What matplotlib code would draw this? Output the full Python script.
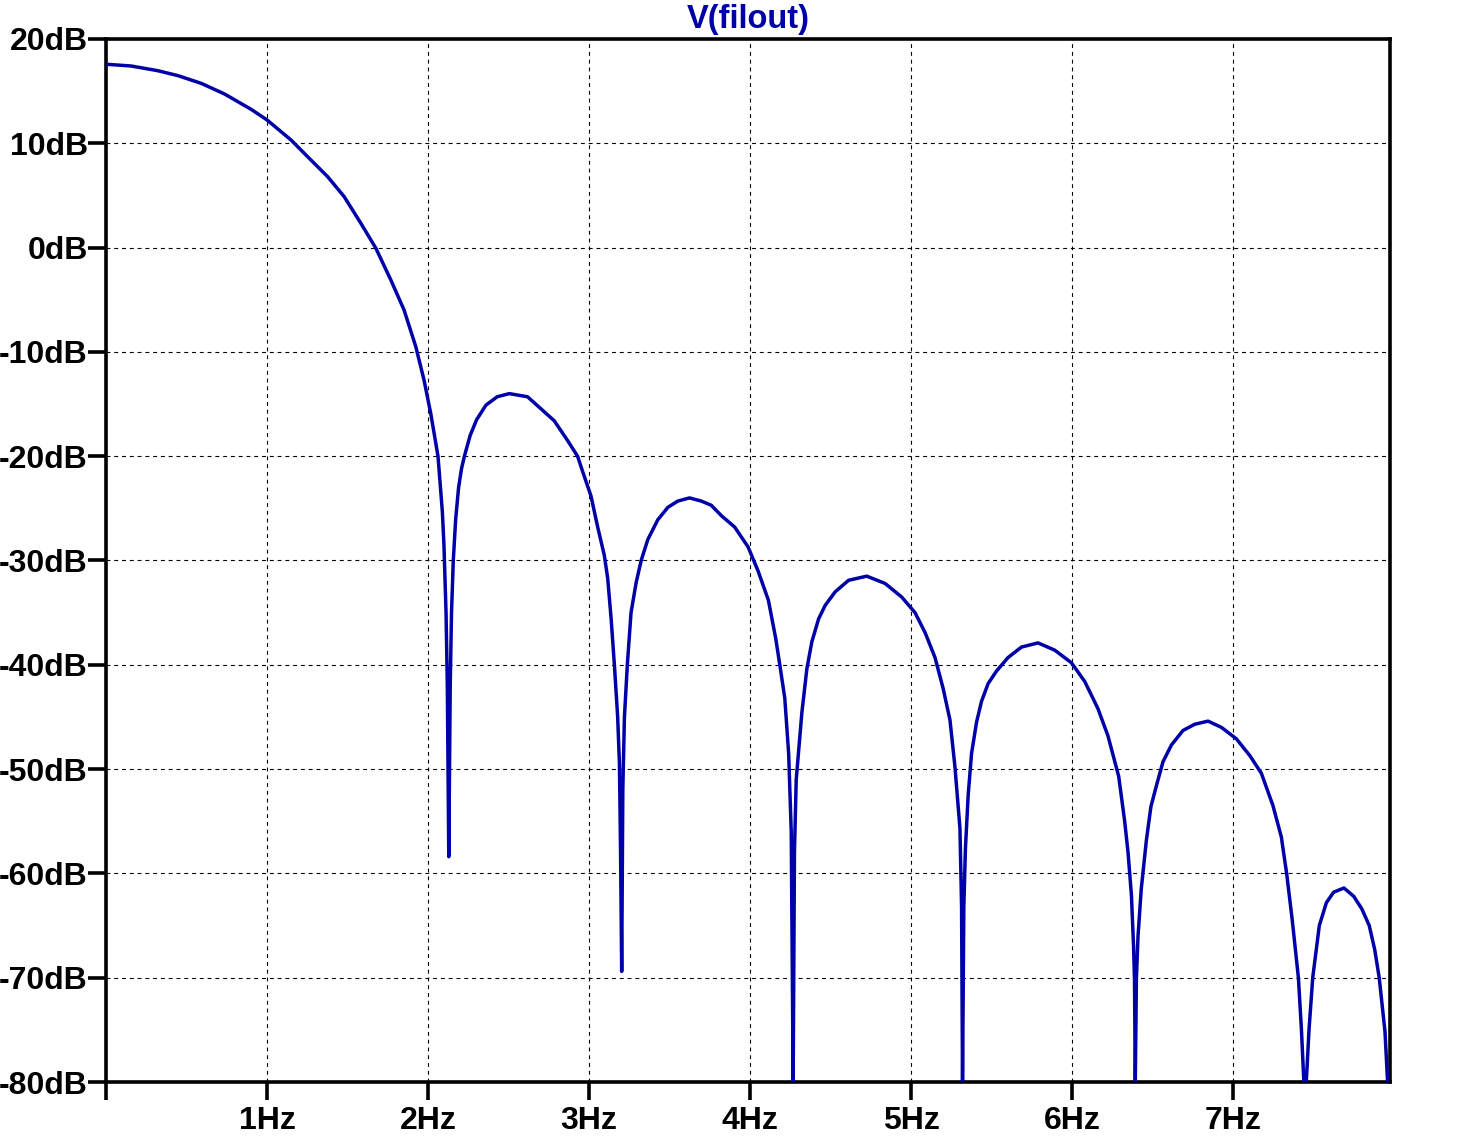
import matplotlib
matplotlib.use("Agg")
import matplotlib.pyplot as plt
from matplotlib.ticker import FixedLocator, FixedFormatter

plt.rcParams['font.family'] = ['Liberation Sans', 'DejaVu Sans']

# ---- data ----
freq_hz = [
    0.0, 0.157, 0.322, 0.446, 0.591, 0.736, 0.901, 1.0, 1.149, 1.252,
    1.376, 1.479, 1.583, 1.676, 1.769, 1.851, 1.924, 1.975, 2.017, 2.062,
    2.089, 2.099, 2.112, 2.120, 2.129, 2.138, 2.146, 2.157, 2.172, 2.19,
    2.208, 2.226, 2.262, 2.302, 2.36, 2.43, 2.505, 2.618, 2.701, 2.784,
    2.867, 2.929, 2.961, 3.012, 3.054, 3.095, 3.116, 3.137, 3.158, 3.178,
    3.189, 3.196, 3.203, 3.21, 3.22, 3.238, 3.261, 3.293, 3.324, 3.365,
    3.427, 3.49, 3.552, 3.624, 3.697, 3.759, 3.822, 3.905, 3.988, 4.05,
    4.114, 4.16, 4.185, 4.216, 4.24, 4.256, 4.262, 4.268, 4.276, 4.287,
    4.322, 4.353, 4.384, 4.426, 4.467, 4.529, 4.612, 4.725, 4.839, 4.942,
    5.025, 5.087, 5.149, 5.2, 5.242, 5.273, 5.304, 5.314, 5.320, 5.328,
    5.338, 5.355, 5.376, 5.407, 5.438, 5.479, 5.531, 5.603, 5.686, 5.789,
    5.893, 5.996, 6.079, 6.161, 6.223, 6.29, 6.327, 6.348, 6.369, 6.382,
    6.388, 6.393, 6.400, 6.41, 6.43, 6.462, 6.49, 6.524, 6.565, 6.617,
    6.689, 6.762, 6.845, 6.928, 7.021, 7.104, 7.176, 7.248, 7.3, 7.333,
    7.368, 7.406, 7.425, 7.440, 7.455, 7.472, 7.495, 7.536, 7.58, 7.625,
    7.689, 7.75, 7.8, 7.846, 7.88, 7.908, 7.944, 7.96,
]
mag_db = [
    17.58, 17.41, 16.96, 16.49, 15.75, 14.73, 13.26, 12.24, 10.32, 8.72,
    6.81, 4.89, 2.33, -0.06, -3.1, -5.97, -9.49, -12.68, -15.9, -20.0,
    -25.3, -28.5, -35.0, -42.0, -58.4, -42.0, -35.0, -30.0, -26.0, -23.0,
    -21.2, -20.0, -18.0, -16.5, -15.1, -14.3, -14.0, -14.3, -15.45, -16.6,
    -18.5, -20.0, -21.5, -23.8, -26.8, -29.5, -31.7, -35.5, -40.1, -45.0,
    -49.5, -58.0, -69.4, -52.0, -45.0, -40.0, -35.0, -32.1, -30.0, -28.0,
    -26.1, -24.9, -24.3, -24.0, -24.3, -24.7, -25.7, -26.8, -28.7, -31.0,
    -33.8, -37.5, -40.0, -43.2, -48.5, -56.0, -68.0, -80.0, -58.0, -51.0,
    -44.6, -40.4, -37.8, -35.6, -34.3, -33.0, -31.9, -31.5, -32.2, -33.5,
    -35.0, -36.9, -39.3, -42.3, -45.3, -49.8, -55.7, -63.2, -80.0, -63.2,
    -57.6, -52.5, -48.5, -45.5, -43.5, -41.8, -40.6, -39.3, -38.3, -37.9,
    -38.6, -39.8, -41.6, -44.2, -46.8, -50.7, -55.0, -58.0, -62.1, -66.9,
    -70.1, -80.0, -70.0, -66.0, -61.5, -56.8, -53.6, -51.6, -49.3, -47.7,
    -46.3, -45.7, -45.4, -46.0, -47.1, -48.7, -50.4, -53.5, -56.5, -60.0,
    -64.5, -70.0, -75.0, -80.0, -80.0, -75.0, -70.0, -65.0, -62.8, -61.8,
    -61.4, -62.2, -63.4, -65.0, -67.3, -70.0, -75.2, -80.0,
]

x_ticks = [0, 1, 2, 3, 4, 5, 6, 7]
x_tick_labels = ['', '1Hz', '2Hz', '3Hz', '4Hz', '5Hz', '6Hz', '7Hz']
y_ticks = [20, 10, 0, -10, -20, -30, -40, -50, -60, -70, -80]
y_tick_labels = ['20dB', '10dB', '0dB', '-10dB', '-20dB', '-30dB', '-40dB',
                 '-50dB', '-60dB', '-70dB', '-80dB']
title_text = 'V(filout)'

# ---- styling ----
W, H = 1474, 1140
line_color = '#0000A8'

fig = plt.figure(figsize=(W / 100, H / 100), dpi=100)
ax = fig.add_axes([106 / W, 1 - 1082 / H, (1390 - 106) / W, (1082 - 39) / H])

ax.plot(freq_hz, mag_db, color=line_color, linewidth=2.5, zorder=3,
        solid_joinstyle='round')

ax.set_xlim(0, 7.975)
ax.set_ylim(-80, 20)

ax.xaxis.set_major_locator(FixedLocator(x_ticks))
ax.xaxis.set_major_formatter(FixedFormatter(x_tick_labels))
ax.yaxis.set_major_locator(FixedLocator(y_ticks))
ax.yaxis.set_major_formatter(FixedFormatter(y_tick_labels))

ax.grid(True, color='black', linewidth=0.8, linestyle=(0, (3.5, 3.5)), zorder=1)
ax.set_axisbelow(True)

for s in ax.spines.values():
    s.set_linewidth(2.6)
    s.set_color('black')

ax.tick_params(axis='both', direction='out', length=13, width=2.6,
               colors='black', labelsize=23)
ax.tick_params(axis='y', pad=0)
ax.tick_params(axis='x', pad=4)
for lab in ax.get_xticklabels() + ax.get_yticklabels():
    lab.set_fontweight('bold')

ax.set_title(title_text, color=line_color, fontsize=23.5, fontweight='bold', pad=8)

fig.savefig('out.png', dpi=100)
